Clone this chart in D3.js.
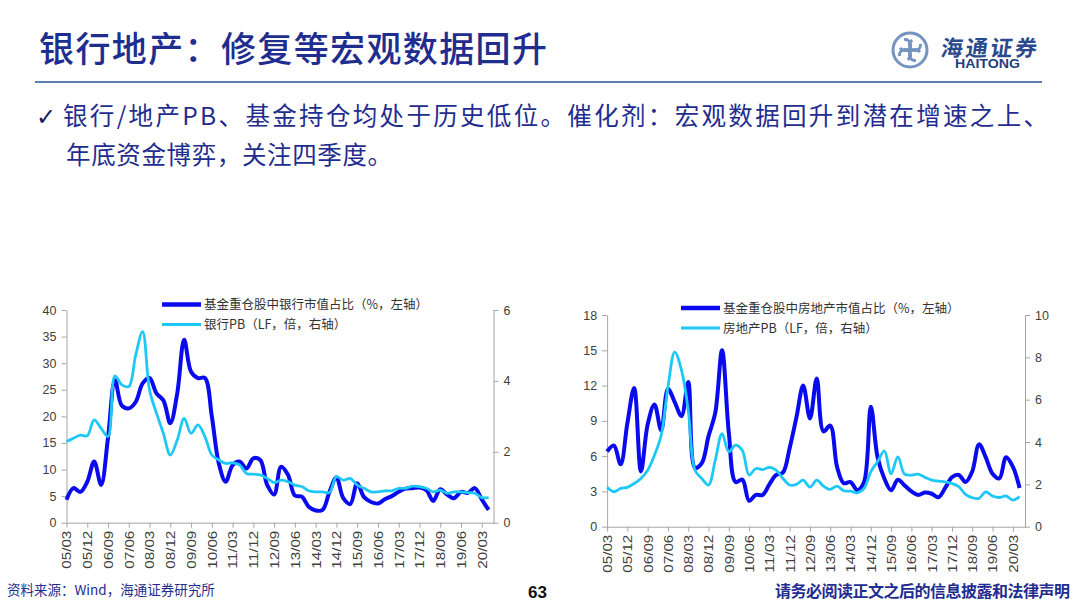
<!doctype html>
<html>

<head>
    <meta charset="utf-8">
    <title>银行地产：修复等宏观数据回升</title>
    <script type="text/javascript" src="https://cdnjs.cloudflare.com/ajax/libs/d3/7.8.5/d3.min.js"></script>
    <style type="text/css">
        html,
        body {
            margin: 0;
            padding: 0;
            background: #fff;
        }

        #slide {
            width: 1080px;
            height: 607px;
            overflow: hidden;
        }

        svg text {
            font-family: "Noto Sans CJK SC", "Liberation Sans", sans-serif;
        }

        .axis text {
            font-family: "Liberation Sans", Arial, sans-serif;
            font-size: 12.5px;
            fill: #404040;
        }

        .axis path,
        .axis line {
            stroke: #a6a6a6;
            stroke-width: 1px;
        }
    </style>

    <script type="text/javascript">
        // quarterly points, 2005Q1 .. 2020Q2
        var quarters = [
            "05/03", "05/06", "05/09", "05/12", "06/03", "06/06", "06/09", "06/12",
            "07/03", "07/06", "07/09", "07/12", "08/03", "08/06", "08/09", "08/12",
            "09/03", "09/06", "09/09", "09/12", "10/03", "10/06", "10/09", "10/12",
            "11/03", "11/06", "11/09", "11/12", "12/03", "12/06", "12/09", "12/12",
            "13/03", "13/06", "13/09", "13/12", "14/03", "14/06", "14/09", "14/12",
            "15/03", "15/06", "15/09", "15/12", "16/03", "16/06", "16/09", "16/12",
            "17/03", "17/06", "17/09", "17/12", "18/03", "18/06", "18/09", "18/12",
            "19/03", "19/06", "19/09", "19/12", "20/03", "20/06"
        ]

        var xTickLabels = [
            "05/03", "05/12", "06/09", "07/06", "08/03", "08/12", "09/09", "10/06",
            "11/03", "11/12", "12/09", "13/06", "14/03", "14/12", "15/09", "16/06",
            "17/03", "17/12", "18/09", "19/06", "20/03"
        ]

        // 基金重仓股中银行市值占比（%）
        var bankShare = [
            4.3, 6.5, 5.8, 7.7, 11.5, 7.1, 16, 26.8, 22, 21.5,
            22.7, 26.2, 27.2, 24.3, 23, 18.7, 24.3, 34.4, 28.4, 27.2,
            27.2, 20, 11.2, 7.7, 10.8, 11.5, 10.2, 12.1, 11.8, 7.1,
            5.3, 10.5, 9, 5.1, 4.9, 3, 2.3, 2.4, 5.8, 8.5,
            4.6, 3.5, 7.4, 4.8, 3.9, 3.6, 4.4, 5, 5.8, 6.4,
            6.5, 6.6, 6.1, 4.1, 6.3, 5.3, 4.6, 5.8, 5.6, 6.5,
            4.4, 2.4
        ]

        // 银行PB（LF，倍）
        var bankPB = [
            2.29, 2.38, 2.47, 2.45, 2.9, 2.66, 2.43, 4.14, 3.89, 3.84,
            4.73, 5.39, 3.74, 3.09, 2.52, 1.91, 2.33, 2.94, 2.52, 2.76,
            2.43, 1.91, 1.77, 1.67, 1.69, 1.63, 1.39, 1.37, 1.35, 1.25,
            1.13, 1.2, 1.16, 1.06, 1.02, 0.9, 0.87, 0.87, 0.85, 1.3,
            1.2, 1.25, 1.06, 0.97, 0.87, 0.87, 0.9, 0.9, 0.97, 0.97,
            1.03, 1.02, 0.97, 0.87, 0.92, 0.83, 0.87, 0.87, 0.85, 0.83,
            0.71, 0.71
        ]

        // 基金重仓股中房地产市值占比（%）
        var estateShare = [
            6.4, 6.9, 5.3, 8.8, 11.8, 4.7, 8.7, 10.4, 8.2, 11.7,
            10.6, 9.4, 12.3, 5, 5.4, 7.7, 9.7, 15, 8, 3.8,
            4, 2.2, 2.7, 2.7, 3.6, 4.4, 4.6, 6.7, 9.3, 12,
            9.2, 12.6, 8.1, 8.6, 5.1, 3.7, 3.8, 3.1, 3.8, 10.2,
            5.9, 4.1, 3.1, 4, 3.5, 3, 2.7, 2.9, 2.8, 2.5,
            3.3, 4.2, 4.4, 3.8, 4.7, 7, 5.9, 4.5, 4.1, 5.9,
            5.1, 3.3
        ]

        // 房地产PB（LF，倍）
        var estatePB = [
            1.86, 1.65, 1.81, 1.86, 2.04, 2.28, 2.67, 3.38, 4.32, 6.6,
            8.25, 7.4, 5.5, 2.67, 2.28, 1.97, 3.14, 4.4, 3.54, 3.85,
            3.6, 2.44, 2.75, 2.7, 2.8, 2.67, 2.28, 1.97, 2.0, 2.2,
            1.87, 2.2, 1.92, 1.76, 1.92, 1.7, 1.68, 1.6, 1.81, 2.6,
            3.07, 3.58, 2.5, 3.3, 2.48, 2.44, 2.48, 2.33, 2.2, 2.15,
            2.12, 2.04, 1.89, 1.53, 1.37, 1.34, 1.65, 1.45, 1.38, 1.45,
            1.26, 1.42
        ]

        var bankLeftTicks = [0, 5, 10, 15, 20, 25, 30, 35, 40]
        var bankRightTicks = [0, 2, 4, 6]
        var estateLeftTicks = [0, 3, 6, 9, 12, 15, 18]
        var estateRightTicks = [0, 2, 4, 6, 8, 10]

        var bankLegend = ["基金重仓股中银行市值占比（%，左轴）", "银行PB（LF，倍，右轴）"]
        var estateLegend = ["基金重仓股中房地产市值占比（%，左轴）", "房地产PB（LF，倍，右轴）"]

        var DARK = "#0a0aee"
        var LIGHT = "#1ec8f6"
        var NAVY = "#1f2d8f"

        function drawPanel(svg, p) {
            var x = d3.scaleLinear().domain([0, p.xMax]).range([p.x0, p.x1])
            var yL = d3.scaleLinear().domain([0, p.leftMax]).range([p.yBottom, p.yTop])
            var yR = d3.scaleLinear().domain([0, p.rightMax]).range([p.yBottom, p.yTop])

            var g = svg.append("g")

            var xAxis = d3.axisBottom(x)
                .tickValues(xTickLabels.map(function (l) { return quarters.indexOf(l) }))
                .tickFormat(function (i) { return quarters[i] })
                .tickSize(5)
                .tickSizeOuter(0)

            var gx = g.append("g")
                .attr("class", "axis")
                .attr("transform", "translate(0," + p.yBottom + ")")
                .call(xAxis)

            gx.selectAll("text")
                .attr("transform", "rotate(-90)")
                .attr("text-anchor", "end")
                .attr("x", -8)
                .attr("y", 0)
                .attr("dy", "0.35em")
                .attr("textLength", 38)
                .attr("lengthAdjust", "spacingAndGlyphs")

            g.append("g")
                .attr("class", "axis")
                .attr("transform", "translate(" + p.x0 + ",0)")
                .call(d3.axisLeft(yL).tickValues(p.leftTicks).tickFormat(d3.format("d"))
                    .tickSize(5).tickPadding(5).tickSizeOuter(0))

            g.append("g")
                .attr("class", "axis")
                .attr("transform", "translate(" + p.x1 + ",0)")
                .call(d3.axisRight(yR).tickValues(p.rightTicks).tickFormat(d3.format("d"))
                    .tickSize(5).tickPadding(5).tickSizeOuter(0))

            var line = function (scale) {
                return d3.line()
                    .x(function (d, i) { return x(i) })
                    .y(function (d) { return scale(d) })
                    .curve(d3.curveCatmullRom.alpha(0.5))
            }

            g.append("path")
                .datum(p.share)
                .attr("d", line(yL))
                .attr("fill", "none")
                .attr("stroke", DARK)
                .attr("stroke-width", 4)
                .attr("stroke-linejoin", "round")

            g.append("path")
                .datum(p.pb)
                .attr("d", line(yR))
                .attr("fill", "none")
                .attr("stroke", LIGHT)
                .attr("stroke-width", 2.8)
                .attr("stroke-linejoin", "round")

            // legend
            var colors = [DARK, LIGHT]
            var widths = [4.5, 3]
            p.legend.forEach(function (t, k) {
                var ly = p.legendY + k * 20
                g.append("line")
                    .attr("x1", p.legendX).attr("x2", p.legendX + 39)
                    .attr("y1", ly).attr("y2", ly)
                    .attr("stroke", colors[k])
                    .attr("stroke-width", widths[k])
                g.append("text")
                    .attr("x", p.legendX + 42)
                    .attr("y", ly)
                    .attr("dy", "0.36em")
                    .style("font-size", "12.5px")
                    .style("fill", "#333")
                    .text(t)
            })
        }

        function drawLogo(svg) {
            var logo = svg.append("g").attr("transform", "translate(910,50)")
            logo.append("circle")
                .attr("r", 17)
                .attr("fill", "none")
                .attr("stroke", "#7393c2")
                .attr("stroke-width", 3)
            var arc = d3.arc().innerRadius(4).outerRadius(7).startAngle(0.6).endAngle(5.0)
            ;[45, 135, 225, 315].forEach(function (a) {
                logo.append("path")
                    .attr("d", arc())
                    .attr("fill", "#7393c2")
                    .attr("transform", "rotate(" + a + ") translate(0,-7)")
            })
            svg.append("text")
                .attr("x", 941).attr("y", 56)
                .attr("transform", "skewX(-8) translate(7,0)")
                .style("font-size", "22px")
                .style("font-weight", "700")
                .style("fill", "#2b4a8e")
                .attr("textLength", 96)
                .text("海通证券")
            svg.append("text")
                .attr("x", 955).attr("y", 68)
                .style("font-family", "'Liberation Sans', Arial, sans-serif")
                .style("font-size", "12px")
                .style("font-weight", "700")
                .style("fill", "#1f3f80")
                .attr("textLength", 65)
                .attr("lengthAdjust", "spacingAndGlyphs")
                .text("HAITONG")
        }

        document.addEventListener("DOMContentLoaded", function (e) {
            var svg = d3.select("#slide").append("svg")
                .attr("width", 1080)
                .attr("height", 607)

            svg.append("rect").attr("width", 1080).attr("height", 607).attr("fill", "#fff")

            // header
            svg.append("text")
                .attr("x", 39).attr("y", 62)
                .style("font-size", "35px")
                .style("font-weight", "500")
                .style("fill", NAVY)
                .attr("textLength", 508)
                .text("银行地产：修复等宏观数据回升")

            svg.append("line")
                .attr("x1", 35).attr("x2", 1042)
                .attr("y1", 82).attr("y2", 82)
                .attr("stroke", "#5b80b3")
                .attr("stroke-width", 2)

            drawLogo(svg)

            svg.append("text")
                .attr("x", 36).attr("y", 125)
                .style("font-family", "'DejaVu Sans', sans-serif")
                .style("font-size", "24px")
                .style("fill", "#1a1a5e")
                .text("✓")

            svg.append("text")
                .attr("x", 63).attr("y", 125)
                .style("font-size", "24.5px")
                .style("fill", NAVY)
                .attr("textLength", 985)
                .text("银行/地产PB、基金持仓均处于历史低位。催化剂：宏观数据回升到潜在增速之上、")

            svg.append("text")
                .attr("x", 66).attr("y", 164)
                .style("font-size", "24.5px")
                .style("fill", NAVY)
                .attr("textLength", 326)
                .text("年底资金博弈，关注四季度。")

            drawPanel(svg, {
                x0: 66.5, x1: 493.5, xMax: 61.7,
                yTop: 310, yBottom: 522.7,
                leftMax: 40, rightMax: 6,
                leftTicks: bankLeftTicks, rightTicks: bankRightTicks,
                share: bankShare, pb: bankPB,
                legend: bankLegend, legendX: 162, legendY: 304.5
            })

            drawPanel(svg, {
                x0: 607.1, x1: 1025, xMax: 61.8,
                yTop: 315, yBottom: 526.7,
                leftMax: 18, rightMax: 10,
                leftTicks: estateLeftTicks, rightTicks: estateRightTicks,
                share: estateShare, pb: estatePB,
                legend: estateLegend, legendX: 681, legendY: 308
            })

            // footer
            svg.append("text")
                .attr("x", 7).attr("y", 595)
                .style("font-size", "13.5px")
                .style("fill", NAVY)
                .text("资料来源：Wind，海通证券研究所")

            svg.append("text")
                .attr("x", 528).attr("y", 598)
                .style("font-family", "'Liberation Sans', Arial, sans-serif")
                .style("font-size", "17px")
                .style("font-weight", "700")
                .style("fill", "#111")
                .text("63")

            svg.append("text")
                .attr("x", 775).attr("y", 597)
                .style("font-size", "16px")
                .style("font-weight", "700")
                .style("fill", NAVY)
                .attr("textLength", 295)
                .text("请务必阅读正文之后的信息披露和法律声明")
        })
    </script>
</head>

<body>
    <div id="slide"></div>
</body>

</html>
